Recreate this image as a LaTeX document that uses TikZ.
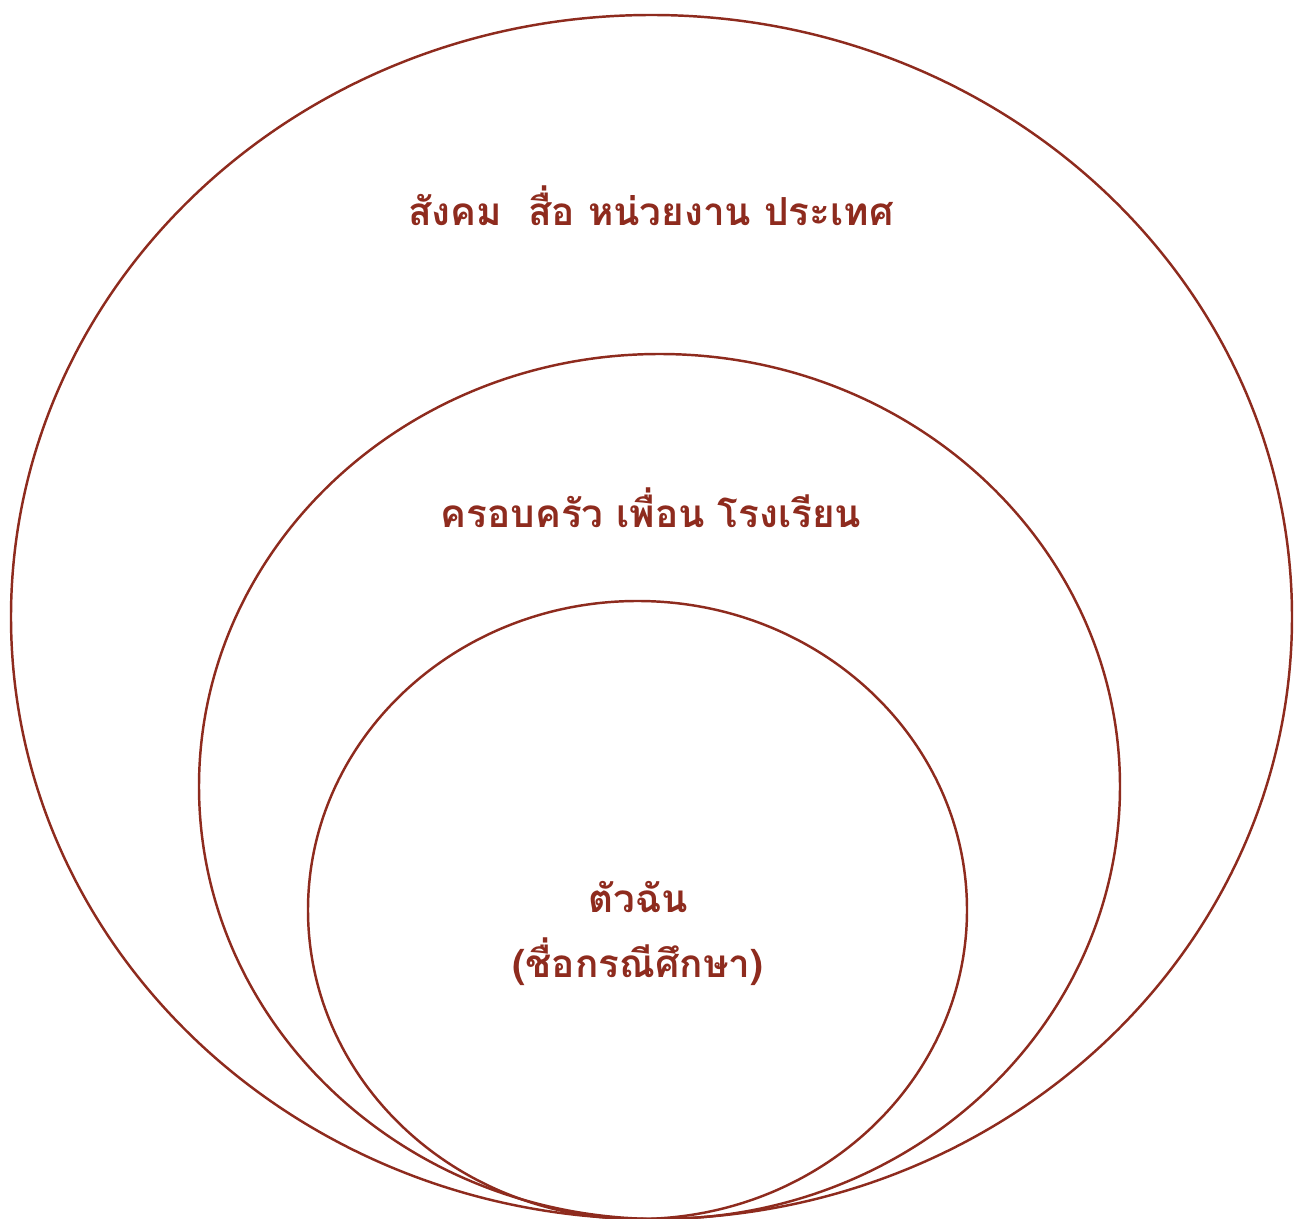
\documentclass[tikz,border=0pt]{standalone}
\usepackage{fontspec}
\newfontfamily\thaifont[Script=Thai]{Loma}
\usepackage{tikz}
\usetikzlibrary{positioning}
\definecolor{ringred}{HTML}{8E2B1E}

\begin{document}
\begin{tikzpicture}[x=0.02cm, y=-0.02cm]
  % --- STYLE DEFINITIONS ---
  \tikzstyle{ring}=[draw=ringred, line width=1.4pt]
  \tikzstyle{ringtext}=[text=ringred, font=\thaifont\bfseries\fontsize{22}{37}\selectfont, align=center, inner sep=0pt]

  \useasboundingbox (0,0) rectangle (1296,1219);

  % =================================================================
  % OUTER RING: society
  % =================================================================
  \draw[ring] (651.5,617) ellipse (640.5 and 602);
  \node[ringtext] (society) at (651,206) {สังคม\ \ สื่อ หน่วยงาน ประเทศ};

  % =================================================================
  % MIDDLE RING: family
  % =================================================================
  \draw[ring] (659.5,786.5) ellipse (460.5 and 432.5);
  \node[ringtext] (family) at (651,508) {ครอบครัว เพื่อน โรงเรียน};

  % =================================================================
  % INNER RING: self
  % =================================================================
  \draw[ring] (637.5,910) ellipse (329.5 and 309);
  \node[ringtext] (self) at (638,933) {ตัวฉัน\\(ชื่อกรณีศึกษา)};

\end{tikzpicture}
\end{document}
